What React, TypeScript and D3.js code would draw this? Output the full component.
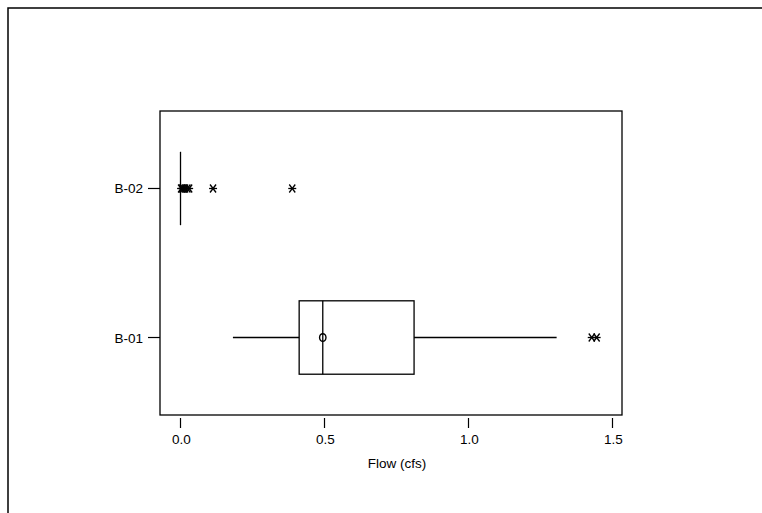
import React from "react";
import * as d3 from "d3";

// Flow summary per station
const stations = ["B-02", "B-01"];
const q1 = [0.0, 0.412];
const median = [0.0, 0.494];
const q3 = [0.0, 0.811];
const whiskerLow = [0.0, 0.182];
const whiskerHigh = [0.0, 1.306];
const means = [null, 0.494];
const outliers: number[][] = [
  [0.002, 0.006, 0.01, 0.016, 0.024, 0.03, 0.113, 0.388],
  [1.428, 1.445],
];
const xTicks = [0.0, 0.5, 1.0, 1.5];

const W = 762;
const H = 513;
const plot = { left: 160, right: 622, top: 111, bottom: 415 };
const FONT = "'Liberation Sans', Arial, sans-serif";
const FS = 13.5;

function Star({ x, y }: { x: number; y: number }) {
  const r = 4;
  return (
    <g stroke="#000" strokeWidth={1.3}>
      <line x1={x - r} y1={y} x2={x + r} y2={y} />
      <line x1={x - r * 0.75} y1={y - r} x2={x + r * 0.75} y2={y + r} />
      <line x1={x - r * 0.75} y1={y + r} x2={x + r * 0.75} y2={y - r} />
    </g>
  );
}

export default function App() {
  const x = d3.scaleLinear().domain([-0.0712, 1.533]).range([plot.left, plot.right]);
  const y = d3
    .scalePoint<string>()
    .domain(stations)
    .range([plot.top, plot.bottom])
    .padding(0.52);
  const boxHalf = 36.7;

  return (
    <svg
      width={W}
      height={H}
      style={{ position: "absolute", left: 0, top: 0, background: "#fff" }}
      fontFamily={FONT}
    >
      <rect x={0} y={0} width={W} height={H} fill="#fff" />
      {/* outer frame */}
      <rect x={8} y={8} width={900} height={700} fill="none" stroke="#000" strokeWidth={1.5} />

      {/* plot frame */}
      <rect
        x={plot.left}
        y={plot.top}
        width={plot.right - plot.left}
        height={plot.bottom - plot.top}
        fill="none"
        stroke="#000"
        strokeWidth={1.3}
      />

      {/* x axis */}
      {xTicks.map((t) => (
        <g key={t}>
          <line x1={x(t)} x2={x(t)} y1={418} y2={428} stroke="#000" strokeWidth={1.2} />
          <text x={x(t) + 1} y={444} textAnchor="middle" fontSize={FS} fill="#000">
            {d3.format(".1f")(t)}
          </text>
        </g>
      ))}
      <text
        x={(plot.left + plot.right) / 2 + 6}
        y={468}
        textAnchor="middle"
        fontSize={FS}
        fill="#000"
      >
        Flow (cfs)
      </text>

      {/* y axis */}
      {stations.map((s) => (
        <g key={s}>
          <line x1={148} x2={plot.left} y1={y(s)!} y2={y(s)!} stroke="#000" strokeWidth={1.2} />
          <text x={143} y={y(s)! + 5} textAnchor="end" fontSize={FS} fill="#000">
            {s}
          </text>
        </g>
      ))}

      {/* boxes */}
      {stations.map((s, i) => {
        const cy = y(s)!;
        return (
          <g key={s} stroke="#000" fill="none" strokeWidth={1.3}>
            <line x1={x(whiskerLow[i])} x2={x(q1[i])} y1={cy} y2={cy} />
            <line x1={x(q3[i])} x2={x(whiskerHigh[i])} y1={cy} y2={cy} />
            <rect
              x={x(q1[i])}
              y={cy - boxHalf}
              width={Math.max(0, x(q3[i]) - x(q1[i]))}
              height={boxHalf * 2}
              strokeWidth={q3[i] - q1[i] > 0 ? 1.3 : 2}
            />
            <line x1={x(median[i])} x2={x(median[i])} y1={cy - boxHalf} y2={cy + boxHalf} />
            {means[i] !== null && (
              <ellipse cx={x(means[i] as number)} cy={cy} rx={3.2} ry={3.8} strokeWidth={1.4} />
            )}
            {outliers[i].map((v, j) => (
              <Star key={j} x={x(v)} y={cy} />
            ))}
          </g>
        );
      })}
    </svg>
  );
}
